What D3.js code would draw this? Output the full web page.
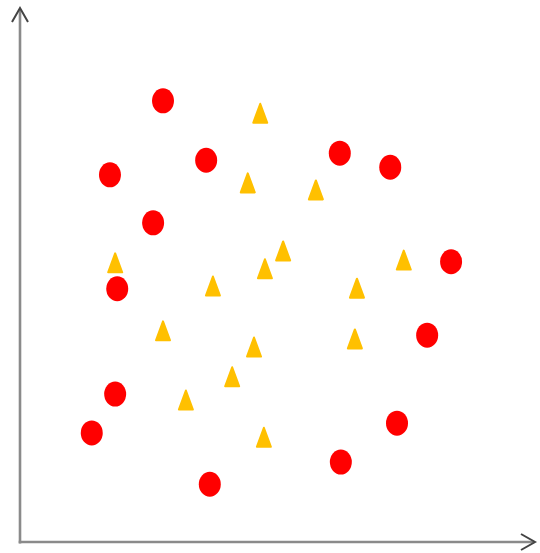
<!DOCTYPE html>
<html><head><meta charset="utf-8">
<script src="https://cdn.jsdelivr.net/npm/d3@7"></script>
<style>html,body{margin:0;padding:0;background:#fff;}svg{display:block;}</style>
</head><body>
<svg id="c" width="540" height="553"></svg>
<script>
const circleX = [27.5,17.3,35.8,61.5,71.2,25.6,82.9,18.7,78.3,18.3,13.8,72.5,61.7,36.5];
const circleY = [81.7,68.0,70.7,72.0,69.4,59.1,51.9,46.9,38.3,27.4,20.2,22.0,14.8,10.7];
const triX = [46.2,43.8,56.9,18.3,50.6,47.1,73.8,37.1,64.8,27.5,45.0,64.4,40.8,31.9,46.9];
const triY = [79.4,66.5,65.2,51.7,53.9,50.6,52.2,47.4,47.0,39.1,36.1,37.6,30.6,26.3,19.4];

const svg = d3.select('#c');
const x = d3.scaleLinear().domain([0,100]).range([20,540]);
const y = d3.scaleLinear().domain([0,100]).range([542,2]);

const axisCol = '#8a8a8a';
const g = svg.append('g');
// y axis
g.append('line').attr('x1',x(0)).attr('x2',x(0)).attr('y1',y(0)+1.5).attr('y2',9)
  .attr('stroke',axisCol).attr('stroke-width',2.6);
g.append('path').attr('d',`M${x(0)-8},22 L${x(0)},8 L${x(0)+8},22`)
  .attr('fill','none').attr('stroke','#444').attr('stroke-width',2);
// x axis
g.append('line').attr('x1',x(0)-1.3).attr('x2',534).attr('y1',y(0)).attr('y2',y(0))
  .attr('stroke',axisCol).attr('stroke-width',2.6);
g.append('path').attr('d',`M521,${y(0)-8} L535,${y(0)} L521,${y(0)+8}`)
  .attr('fill','none').attr('stroke','#444').attr('stroke-width',2);

svg.append('g').selectAll('ellipse').data(circleX.map((v,i)=>[v,circleY[i]]))
  .join('ellipse').attr('cx',d=>x(d[0])).attr('cy',d=>y(d[1]))
  .attr('rx',11).attr('ry',12.5).attr('fill','#ff0000');

svg.append('g').selectAll('path').data(triX.map((v,i)=>[v,triY[i]]))
  .join('path').attr('transform',d=>`translate(${x(d[0])},${y(d[1])})`)
  .attr('d','M0,-9.5 L7,9.5 L-7,9.5 Z')
  .attr('fill','#ffc000').attr('stroke','#ffc000').attr('stroke-width',2).attr('stroke-linejoin','round');
</script>
</body></html>
